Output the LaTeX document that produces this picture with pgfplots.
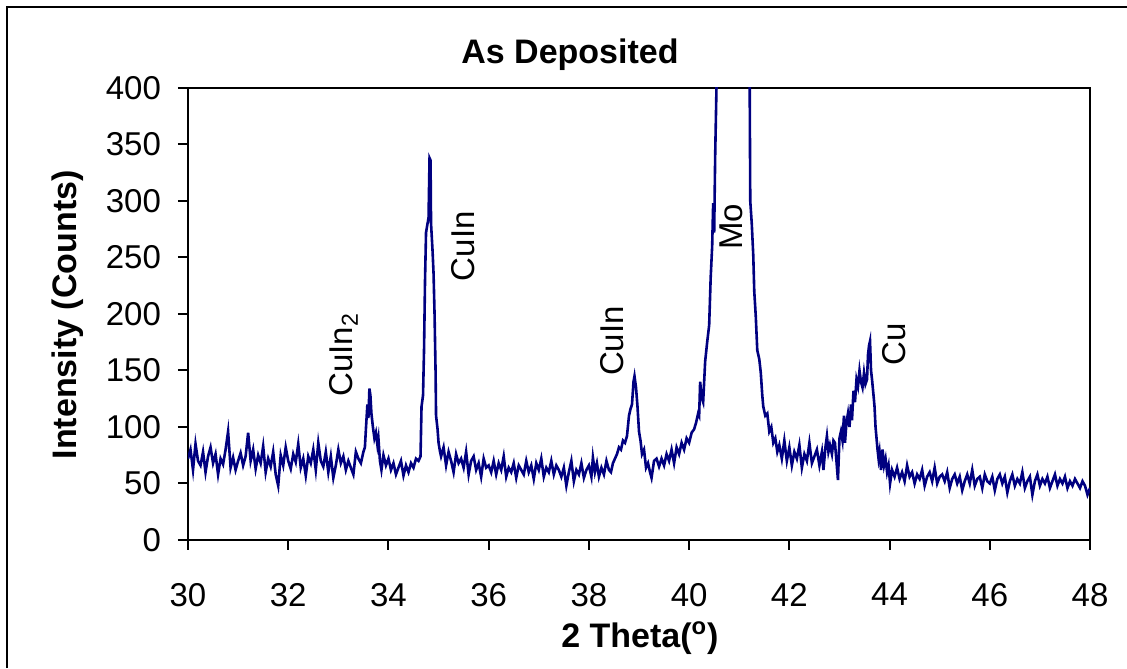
\documentclass[border=0pt]{standalone}
\usepackage{fontspec}
\setmainfont{Liberation Sans}
\usepackage{pgfplots}
\pgfplotsset{compat=1.18}
\definecolor{xrdnavy}{RGB}{0,0,128}
\begin{document}
\begin{tikzpicture}
\path[use as bounding box] (0,0) rectangle (563.5pt,334pt);
\draw[line width=1pt] (3.5pt,0) -- (3.5pt,330.5pt) -- (563.5pt,330.5pt);
\begin{axis}[
  at={(94pt,64pt)}, anchor=south west,
  scale only axis, width=451pt, height=226pt,
  xmin=30, xmax=48, ymin=0, ymax=400,
  xtick distance=2, ytick distance=50,
  tick align=outside, xtick pos=lower, ytick pos=left,
  major tick length=5pt,
  axis line style={line width=1pt},
  every tick/.style={black, line width=1pt},
  tick label style={font=\fontsize{16.5}{19}\selectfont},
  xticklabel style={yshift=-13pt},
  yticklabel style={xshift=-5pt},
  /pgf/number format/assume math mode=true,
  /pgf/number format/1000 sep={},
  title={As Deposited},
  title style={at={(axis description cs:0.4235,1.047)}, anchor=center, font=\bfseries\fontsize{17}{20}\selectfont},
  xlabel={2 Theta(\textsuperscript{o})},
  xlabel style={at={(axis description cs:0.501,-0.217)}, anchor=center, font=\bfseries\fontsize{17}{20}\selectfont},
  ylabel={Intensity (Counts)},
  ylabel style={at={(axis description cs:-0.133,0.498)}, anchor=center, font=\bfseries\fontsize{17}{20}\selectfont},
]
\addplot[xrdnavy, line width=1.3pt, mark=none] table {
x y
30.00 72
30.05 80
30.10 62
30.15 85
30.20 70
30.25 66
30.30 78
30.35 60
30.40 74
30.45 82
30.50 68
30.55 76
30.60 58
30.65 72
30.70 67
30.75 80
30.80 96
30.85 64
30.90 73
30.95 62
31.00 70
31.05 77
31.10 66
31.15 74
31.20 95
31.25 70
31.30 80
31.35 63
31.40 75
31.45 68
31.50 83
31.55 60
31.60 72
31.65 65
31.70 78
31.75 58
31.80 48
31.85 75
31.90 66
31.95 82
32.00 70
32.05 63
32.10 76
32.15 69
32.20 85
32.25 64
32.30 72
32.35 57
32.40 74
32.45 68
32.50 80
32.55 62
32.60 86
32.65 70
32.70 65
32.75 78
32.80 60
32.85 74
32.90 55
32.95 66
33.00 80
33.05 68
33.10 74
33.15 62
33.20 70
33.25 64
33.30 58
33.35 78
33.40 72
33.45 68
33.50 78
33.53 82
33.55 98
33.58 120
33.60 108
33.62 134
33.64 128
33.66 112
33.69 100
33.72 90
33.75 95
33.78 84
33.80 90
33.83 70
33.86 62
33.90 75
33.95 66
34.00 72
34.05 62
34.10 68
34.15 58
34.20 64
34.25 70
34.30 57
34.35 66
34.40 60
34.45 68
34.50 64
34.55 72
34.60 70
34.64 74
34.66 118
34.69 128
34.71 168
34.73 230
34.75 272
34.78 280
34.80 285
34.82 338
34.84 336
34.85 280
34.88 256
34.90 236
34.92 200
34.94 150
34.95 110
34.98 98
35.00 86
35.03 78
35.05 74
35.10 82
35.15 66
35.20 78
35.25 70
35.30 60
35.35 76
35.40 68
35.45 72
35.50 64
35.55 78
35.60 58
35.65 70
35.70 74
35.75 62
35.80 68
35.85 56
35.90 72
35.95 64
36.00 66
36.05 60
36.10 70
36.15 58
36.20 68
36.25 62
36.30 74
36.35 56
36.40 64
36.45 60
36.50 68
36.55 55
36.60 66
36.65 62
36.70 58
36.75 70
36.80 60
36.85 66
36.90 54
36.95 68
37.00 62
37.05 72
37.10 56
37.15 64
37.20 60
37.25 70
37.30 58
37.35 66
37.40 62
37.45 56
37.50 64
37.55 48
37.60 60
37.65 70
37.70 52
37.75 62
37.80 58
37.85 68
37.90 55
37.95 62
38.00 66
38.05 56
38.08 73
38.12 60
38.16 68
38.20 56
38.25 64
38.30 58
38.35 70
38.40 62
38.44 60
38.48 68
38.52 72
38.56 76
38.60 82
38.64 80
38.68 88
38.72 86
38.76 92
38.80 110
38.83 116
38.86 120
38.89 140
38.91 145
38.94 135
38.97 118
39.00 96
39.03 88
39.06 76
39.10 80
39.14 64
39.18 68
39.22 60
39.25 55
39.30 70
39.35 72
39.40 65
39.45 72
39.50 66
39.55 76
39.60 70
39.65 80
39.70 68
39.75 82
39.80 76
39.85 86
39.90 80
39.95 90
40.00 86
40.05 95
40.10 98
40.14 104
40.18 112
40.20 110
40.22 140
40.25 126
40.28 122
40.32 158
40.36 175
40.40 190
40.43 232
40.46 260
40.48 298
40.50 272
40.52 340
40.55 410
40.60 600
40.70 900
40.80 1200
40.90 1300
41.00 1200
41.10 900
41.20 480
41.22 300
41.25 280
41.28 252
41.30 220
41.33 198
41.36 168
41.40 160
41.43 148
41.46 128
41.48 118
41.52 110
41.56 112
41.60 96
41.64 100
41.68 86
41.72 90
41.76 78
41.80 84
41.85 72
41.90 88
41.95 70
42.00 82
42.05 66
42.10 78
42.15 72
42.20 84
42.25 64
42.30 76
42.35 70
42.40 86
42.45 68
42.50 74
42.55 80
42.60 66
42.65 78
42.68 62
42.72 82
42.75 92
42.78 78
42.81 84
42.85 76
42.88 88
42.91 86
42.94 70
42.97 53
43.00 90
43.03 96
43.06 88
43.09 110
43.11 86
43.14 104
43.17 112
43.20 100
43.23 120
43.25 106
43.28 132
43.31 122
43.34 142
43.37 136
43.40 150
43.43 140
43.46 135
43.49 148
43.52 138
43.55 142
43.57 164
43.59 172
43.61 176
43.63 150
43.65 142
43.68 128
43.70 118
43.72 100
43.74 90
43.76 80
43.78 72
43.80 78
43.83 62
43.86 80
43.89 66
43.92 72
43.95 60
43.98 66
44.01 50
44.05 62
44.10 56
44.15 64
44.20 54
44.25 60
44.30 52
44.35 66
44.40 56
44.45 60
44.50 50
44.55 58
44.60 54
44.65 62
44.70 48
44.75 56
44.80 60
44.85 52
44.90 64
44.95 50
45.00 56
45.05 58
45.10 52
45.15 60
45.20 46
45.25 54
45.30 58
45.35 50
45.40 56
45.45 44
45.50 52
45.55 58
45.60 50
45.65 62
45.70 48
45.75 54
45.80 56
45.85 46
45.90 58
45.95 52
46.00 50
46.05 56
46.10 44
46.15 54
46.20 58
46.25 50
46.30 56
46.35 42
46.40 52
46.45 58
46.50 48
46.55 54
46.60 50
46.65 60
46.70 46
46.75 52
46.80 56
46.85 40
46.90 52
46.95 58
47.00 48
47.05 54
47.10 50
47.15 56
47.20 46
47.25 52
47.30 58
47.35 48
47.40 54
47.45 50
47.50 56
47.55 46
47.60 52
47.65 48
47.70 54
47.75 50
47.80 46
47.85 52
47.90 48
47.95 40
48.00 46
};
\begin{scope}[every node/.style={rotate=90, anchor=center, font=\fontsize{16.5}{19}\selectfont, inner sep=0pt}]
\node at (axis cs:33.11,164) {CuIn\textsubscript{2}};
\node at (axis cs:35.50,260) {CuIn};
\node at (axis cs:38.46,176) {CuIn};
\node at (axis cs:40.85,277) {Mo};
\node at (axis cs:44.09,173) {Cu};
\end{scope}
\end{axis}
\end{tikzpicture}
\end{document}
